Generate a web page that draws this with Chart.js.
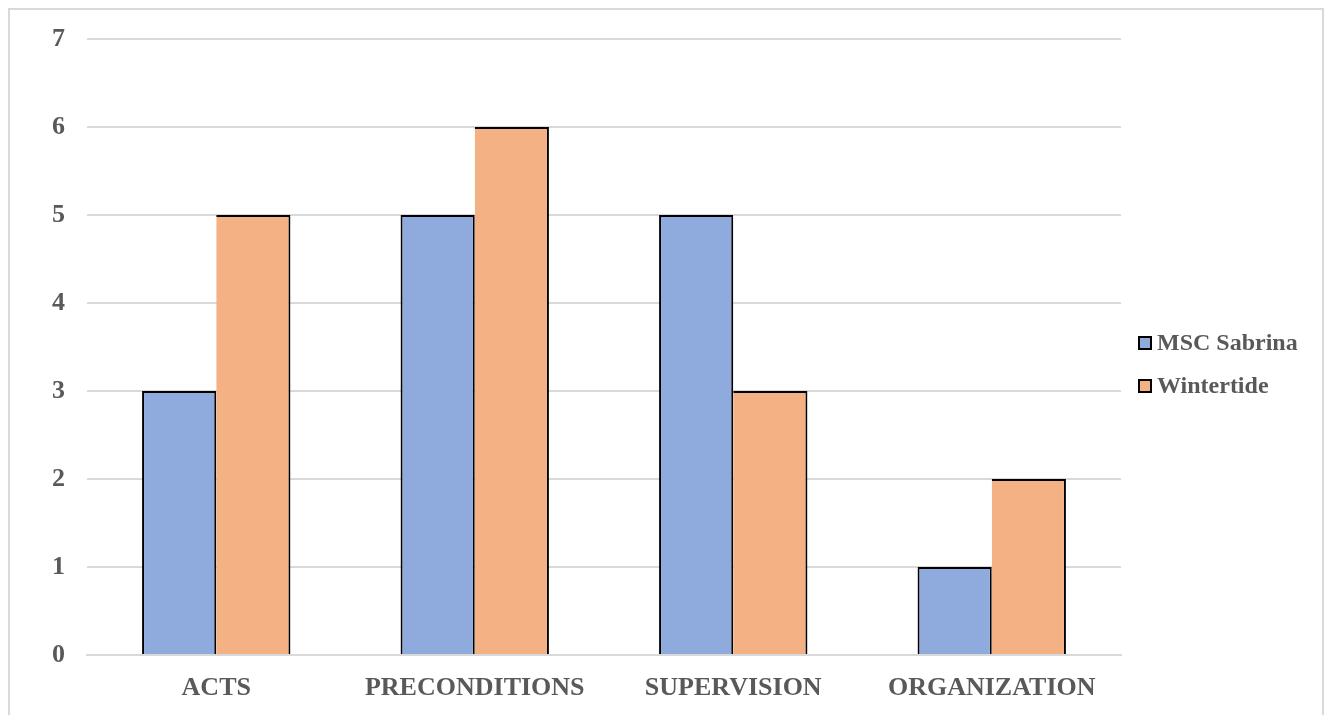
<!DOCTYPE html>
<html>
<head>
<meta charset="utf-8">
<script src="https://cdn.jsdelivr.net/npm/chart.js@4.4.1/dist/chart.umd.min.js"></script>
<style>
  html, body { margin: 0; padding: 0; background: #ffffff; }
  #wrap { position: relative; width: 1324px; height: 715px; overflow: hidden; }
  #frame {
    position: absolute; left: 8px; top: 8px; width: 1312px; height: 720px;
    border: 2px solid #d9d9d9; box-sizing: content-box;
  }
  canvas { position: absolute; left: 0; top: 0; }
</style>
</head>
<body>
<div id="wrap">
  <div id="frame"></div>
  <canvas id="chart" width="1324" height="715"></canvas>
</div>
<script>
const categories = ['ACTS', 'PRECONDITIONS', 'SUPERVISION', 'ORGANIZATION'];
const seriesNames = ['MSC Sabrina', 'Wintertide'];
const mscSabrina = [3, 5, 5, 1];
const wintertide = [5, 6, 3, 2];
const yTicks = [0, 1, 2, 3, 4, 5, 6, 7];

const colors = ['#8faadc', '#f4b183'];
const textColor = '#595959';
const fontFamily = '"Liberation Serif", "Times New Roman", serif';

// Legend drawn at the right side of the canvas, next to the plot.
const sideLegend = {
  id: 'sideLegend',
  afterDraw(chart) {
    const ctx = chart.ctx;
    ctx.save();
    ctx.font = 'bold 24px ' + fontFamily;
    ctx.textBaseline = 'middle';
    chart.data.datasets.forEach((ds, i) => {
      const y = 343 + i * 43;
      ctx.fillStyle = ds.backgroundColor;
      ctx.fillRect(1139, y - 6, 12, 12);
      ctx.strokeStyle = '#000000';
      ctx.lineWidth = 2;
      ctx.strokeRect(1139, y - 6, 12, 12);
      ctx.fillStyle = textColor;
      ctx.fillText(ds.label, 1157, y + 1);
    });
    ctx.restore();
  }
};

new Chart(document.getElementById('chart'), {
  type: 'bar',
  data: {
    labels: categories,
    datasets: [
      {
        label: seriesNames[0], data: mscSabrina, backgroundColor: colors[0], borderColor: '#000000',
        borderWidth: { left: 2, top: 2, right: 2, bottom: 0 }
      },
      {
        label: seriesNames[1], data: wintertide, backgroundColor: colors[1], borderColor: '#000000',
        borderWidth: { left: 0, top: 2, right: 2, bottom: 0 }
      }
    ]
  },
  options: {
    responsive: false,
    animation: false,
    layout: { padding: { left: 0, right: 203, top: 39, bottom: 0 } },
    datasets: { bar: { categoryPercentage: 0.574, barPercentage: 1.0 } },
    plugins: { legend: { display: false }, tooltip: { enabled: false } },
    scales: {
      x: {
        grid: { display: false, drawTicks: false },
        border: { display: true, color: '#d9d9d9', width: 2 },
        ticks: {
          color: textColor,
          font: { family: fontFamily, size: 26, weight: 'bold' },
          padding: 18,
          maxRotation: 0
        },
        afterFit(scale) { scale.height = 60; }
      },
      y: {
        min: 0,
        max: 7,
        afterBuildTicks(scale) { scale.ticks = yTicks.map(v => ({ value: v })); },
        grid: { color: '#d9d9d9', lineWidth: 2, drawTicks: false },
        border: { display: false },
        ticks: {
          color: textColor,
          font: { family: fontFamily, size: 26, weight: 'bold' },
          padding: 22
        },
        afterFit(scale) { scale.width = 87; }
      }
    }
  },
  plugins: [sideLegend]
});
</script>
</body>
</html>
